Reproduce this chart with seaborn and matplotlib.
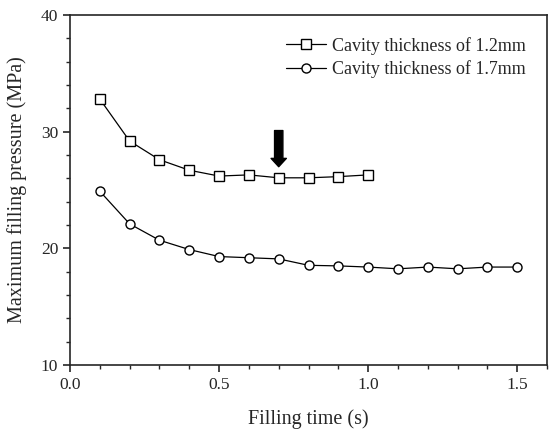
import numpy as np
import pandas as pd
import matplotlib
matplotlib.use("Agg")
import matplotlib.pyplot as plt
import seaborn as sns
from matplotlib.ticker import MultipleLocator

time_12 = [0.1, 0.2, 0.3, 0.4, 0.5, 0.6, 0.7, 0.8, 0.9, 1.0]
pressure_12 = [32.8, 29.2, 27.6, 26.7, 26.2, 26.3, 26.05, 26.05, 26.15, 26.3]
time_17 = [0.1, 0.2, 0.3, 0.4, 0.5, 0.6, 0.7, 0.8, 0.9, 1.0, 1.1, 1.2, 1.3, 1.4, 1.5]
pressure_17 = [24.9, 22.1, 20.7, 19.9, 19.3, 19.2, 19.1, 18.55, 18.5, 18.4, 18.25, 18.4, 18.25, 18.4, 18.4]
labels = ["Cavity thickness of 1.2mm", "Cavity thickness of 1.7mm"]

sns.set_style("ticks")
plt.rcParams['font.family'] = ['Liberation Serif', 'DejaVu Serif']
plt.rcParams['xtick.direction'] = 'out'
plt.rcParams['ytick.direction'] = 'out'

df = pd.concat([
    pd.DataFrame({"t": time_12, "p": pressure_12, "s": labels[0]}),
    pd.DataFrame({"t": time_17, "p": pressure_17, "s": labels[1]}),
])

fig = plt.figure(figsize=(5.49, 4.30), dpi=100)
ax = fig.add_axes([0.1275, 0.151, 0.869, 0.814])

sns.lineplot(data=df, x="t", y="p", hue="s", style="s",
             markers={labels[0]: "s", labels[1]: "o"}, dashes=False,
             palette=["black", "black"], lw=0.9, markersize=6.5,
             markerfacecolor="white", markeredgecolor="black", markeredgewidth=1.0,
             ax=ax)

ax.annotate("", xy=(0.7, 27.0), xytext=(0.7, 30.1),
            arrowprops=dict(facecolor="black", edgecolor="black", width=6, headwidth=11, headlength=6))

ax.set_xlim(0, 1.6)
ax.set_ylim(10, 40)
ax.xaxis.set_major_locator(MultipleLocator(0.5))
ax.xaxis.set_minor_locator(MultipleLocator(0.1))
ax.yaxis.set_major_locator(MultipleLocator(10))
ax.yaxis.set_minor_locator(MultipleLocator(2))
ax.tick_params(which="major", length=5, width=1.2, labelsize=12.5)
ax.tick_params(which="minor", length=3, width=1.0)
for sp in ax.spines.values():
    sp.set_linewidth(1.2)
ax.set_xlabel("Filling time (s)", fontsize=14.5, labelpad=12)
ax.set_ylabel("Maximum filling pressure (MPa)", fontsize=14.5, labelpad=10)

leg = ax.legend(loc="upper right", frameon=False, fontsize=13, handlelength=2.2,
                borderaxespad=0.8, labelspacing=0.3, handletextpad=0.3)

fig.savefig("out.png", dpi=100)
